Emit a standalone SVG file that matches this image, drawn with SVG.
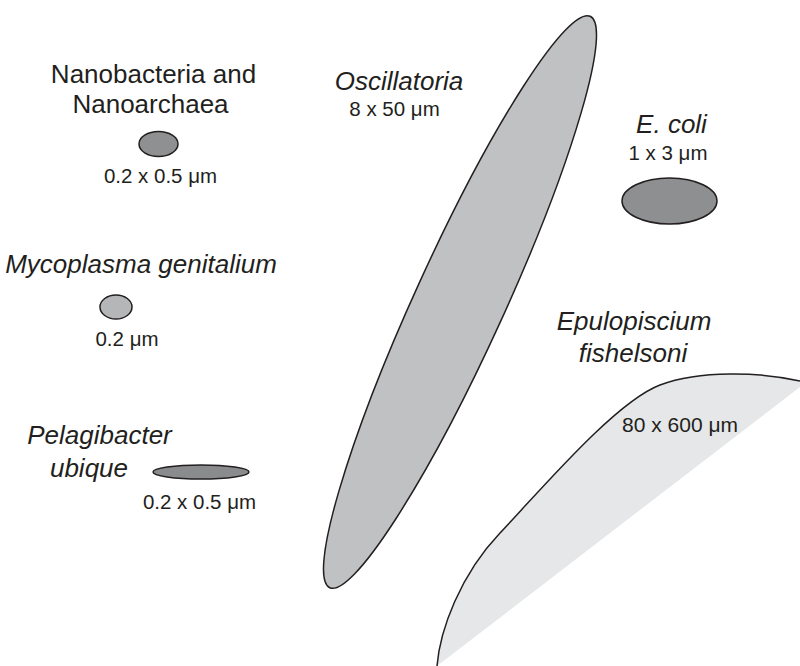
<svg xmlns="http://www.w3.org/2000/svg" width="800" height="666" viewBox="0 0 800 666">
<style>
text{font-family:"Liberation Sans",Arial,sans-serif;fill:#231f20;text-anchor:middle}
.big{font-size:26px}
.it{font-style:italic}
.sm{font-size:20.5px}
.cell{stroke:#231f20;stroke-width:1.5}
</style>
<rect width="800" height="666" fill="#fff"/>
<g id="epulopiscium">
<path d="M437,666 C440,630 460,575 500,533 C540,491 615,402 660,385 C700,370 760,372 800,381 L800,387 L437,666 Z" fill="#e6e7e8"/>
<path d="M437,666 C440,630 460,575 500,533 C540,491 615,402 660,385 C700,370 760,372 800,381" fill="none" class="cell"/>
<text class="big it" x="634" y="330">Epulopiscium</text>
<text class="big it" x="633" y="362">fishelsoni</text>
<text class="sm" x="680" y="432" style="font-size:21px">80 x 600 μm</text>
</g>
<g id="oscillatoria">
<ellipse cx="460" cy="302" rx="314" ry="45" transform="rotate(-65.5 460 302)" fill="#c0c1c3" class="cell"/>
<text class="big it" x="399" y="90">Oscillatoria</text>
<text class="sm" x="394.5" y="116">8 x 50 μm</text>
</g>
<g id="ecoli">
<ellipse cx="669.5" cy="201" rx="47.5" ry="23" fill="#8e8f91" class="cell"/>
<text class="big it" x="671.5" y="133">E. coli</text>
<text class="sm" x="668" y="160">1 x 3 μm</text>
</g>
<g id="nanobacteria">
<ellipse cx="158.5" cy="144" rx="19.5" ry="12.5" fill="#8f9092" class="cell"/>
<text class="big" x="153.5" y="83">Nanobacteria and</text>
<text class="big" x="150.5" y="113">Nanoarchaea</text>
<text class="sm" x="160.5" y="183">0.2 x 0.5 μm</text>
</g>
<g id="mycoplasma">
<ellipse cx="116" cy="307" rx="16" ry="12" fill="#b5b6b8" class="cell"/>
<text class="big it" x="141" y="273">Mycoplasma genitalium</text>
<text class="sm" x="127" y="346">0.2 μm</text>
</g>
<g id="pelagibacter">
<ellipse cx="201" cy="472" rx="48" ry="7" fill="#8a8b8d" class="cell"/>
<text class="big it" x="99.5" y="444">Pelagibacter</text>
<text class="big it" x="89" y="477">ubique</text>
<text class="sm" x="199.5" y="509">0.2 x 0.5 μm</text>
</g>
<g id="connectors"/>
</svg>
